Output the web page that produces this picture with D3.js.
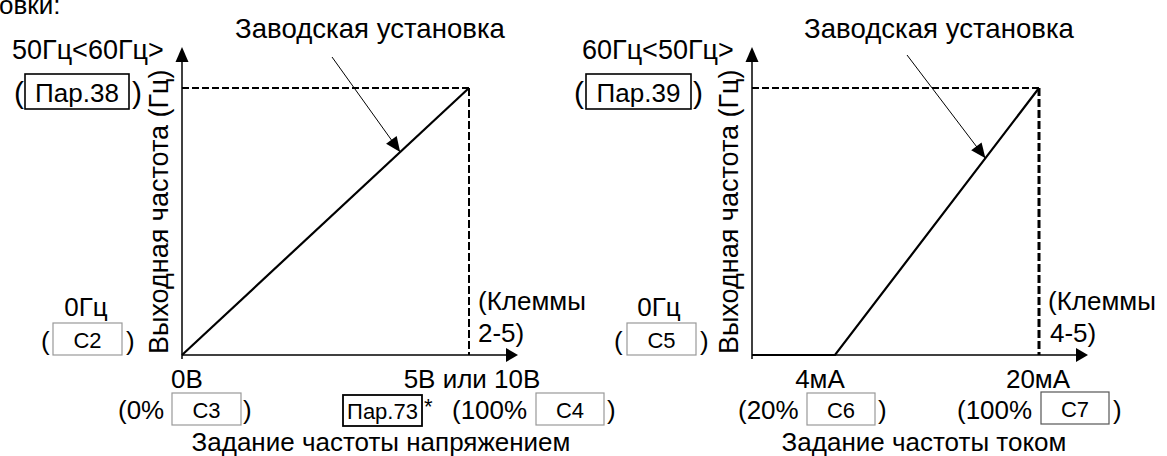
<!DOCTYPE html>
<html>
<head>
<meta charset="utf-8">
<script src="https://cdn.jsdelivr.net/npm/d3@7"></script>
<style>
  body { margin: 0; background: #fff; }
  text { font-family: "Liberation Sans", Arial, sans-serif; fill: #000; }
</style>
</head>
<body>
<svg id="chart" width="1167" height="456"></svg>
<script>
// ---- values ----
const freqMax = 60;                                // output frequency at full input, Hz
const voltageDomain = [0, 100];                    // voltage input, % of full scale
const voltageCurve = [[0, 0], [100, 60]];          // factory setting, voltage input
const voltageLeader = [76, 45.6];                  // point the factory-setting arrow touches
const currentDomain = [0, 4, 20];                  // current input, mA (schematic axis)
const currentCurve = [[0, 0], [4, 0], [20, 60]];   // factory setting, current input
const currentLeader = [15.8, 44.2];
const voltageTickLabels = ["0В", "5В или 10В"];
const currentTickLabels = ["4мА", "20мА"];
const freqTopLabels = ["50Гц<60Гц>", "60Гц<50Гц>"];
const freqTopParams = ["Пар.38", "Пар.39"];
const freqZeroParams = ["C2", "C5"];
const inputLowParams = ["C3", "C6"];
const inputHighParams = ["C4", "C7"];
const terminalLabels = [["(Клеммы", "2-5)"], ["(Клеммы", "4-5)"]];
const axisTitles = ["Задание частоты напряжением", "Задание частоты током"];
const yTitle = "Выходная частота (Гц)";
const factoryLabel = "Заводская установка";

const svg = d3.select("#chart");
const FS = 26;

function txt(x, y, s, size = FS, anchor = "start", extra) {
  const t = svg.append("text").attr("x", x).attr("y", y)
    .attr("font-size", size).attr("text-anchor", anchor).text(s);
  if (extra) extra(t);
  return t;
}
function paramBox(x0, y0, x1, y1, label, stroke, sw, size) {
  svg.append("rect").attr("x", x0).attr("y", y0).attr("width", x1 - x0).attr("height", y1 - y0)
    .attr("fill", "none").attr("stroke", stroke).attr("stroke-width", sw);
  txt((x0 + x1) / 2, y1 - 7, label, size, "middle");
}
function arrowHead(tip, from, len, half) {
  const dx = tip[0] - from[0], dy = tip[1] - from[1];
  const d = Math.hypot(dx, dy), ux = dx / d, uy = dy / d;
  const bx = tip[0] - ux * len, by = tip[1] - uy * len;
  svg.append("path")
    .attr("d", `M${tip[0]},${tip[1]}L${bx - uy * half},${by + ux * half}L${bx + uy * half},${by - ux * half}Z`)
    .attr("fill", "#000");
}

// ---- scales ----
const yScale = d3.scaleLinear().domain([0, freqMax]).range([355, 88]);
const xV = d3.scaleLinear().domain(voltageDomain).range([182, 469]);
const xI = d3.scaleLinear().domain(currentDomain).range([752, 835, 1039]);

function panel(x, curve, leader, leaderFrom, labelX, vDashW) {
  const x0 = x.range()[0], x1 = x.range()[x.range().length - 1];
  const y0 = yScale(0), yTop = yScale(freqMax);
  // reference dashes at full input / full frequency
  svg.append("line").attr("x1", x0).attr("x2", x1).attr("y1", yTop).attr("y2", yTop)
    .attr("stroke", "#000").attr("stroke-width", 2).attr("stroke-dasharray", "7,3");
  svg.append("line").attr("x1", x1).attr("x2", x1).attr("y1", yTop).attr("y2", y0)
    .attr("stroke", "#000").attr("stroke-width", vDashW).attr("stroke-dasharray", "8,3");
  // axes with arrows
  svg.append("line").attr("x1", x0).attr("x2", x0).attr("y1", y0 + 4).attr("y2", yTop - 30)
    .attr("stroke", "#000").attr("stroke-width", 1.5);
  arrowHead([x0, yTop - 41], [x0, y0], 15, 6.5);
  svg.append("line").attr("x1", x0).attr("x2", x1 + 38).attr("y1", y0).attr("y2", y0)
    .attr("stroke", "#000").attr("stroke-width", 1.5);
  arrowHead([x1 + 49, y0], [x0, y0], 12, 7);
  // factory-setting curve
  svg.append("path").datum(curve)
    .attr("d", d3.line().x(d => x(d[0])).y(d => yScale(d[1])))
    .attr("fill", "none").attr("stroke", "#000").attr("stroke-width", 2.2);
  // leader from the label to the curve
  const tip = [x(leader[0]), yScale(leader[1])];
  svg.append("line").attr("x1", leaderFrom[0]).attr("y1", leaderFrom[1])
    .attr("x2", tip[0]).attr("y2", tip[1]).attr("stroke", "#000").attr("stroke-width", 1);
  arrowHead(tip, leaderFrom, 15, 6.5);
  txt(labelX, 38, factoryLabel, 27.6, "middle");
  // rotated y title
  txt(0, 0, yTitle, 27, "start", t => t.attr("transform", `translate(${x0 - 14},354) rotate(-90)`));
}

panel(xV, voltageCurve, voltageLeader, [332, 57], 370, 2);
panel(xI, currentCurve, currentLeader, [907, 55], 939, 3);

// tail of the caption line above the charts
txt(-1, 14, "овки:");

// ---- left panel labels ----
txt(12, 59, freqTopLabels[0], 27);
txt(14, 103, "(", 30);
paramBox(25, 74, 129, 109, freqTopParams[0], "#000", 1.6, FS);
txt(132, 103, ")", 30);
txt(86, 316, "0Гц", FS, "middle");
txt(41, 350, "(");
paramBox(53, 323, 122, 355, freqZeroParams[0], "#999", 1.2, 22);
txt(126, 350, ")");
txt(xV(0) + 5, 388, voltageTickLabels[0], FS, "middle");
txt(118, 419, "(0%");
paramBox(172, 393, 241, 425, inputLowParams[0], "#999", 1.2, 22);
txt(243, 419, ")");
paramBox(343, 395, 422, 426, "Пар.73", "#000", 1.8, 22);
txt(424, 414, "*", 22);
txt(xV(100) + 3, 388, voltageTickLabels[1], FS, "middle");
txt(452, 419, "(100%");
paramBox(536, 393, 604, 425, inputHighParams[0], "#999", 1.2, 22);
txt(607, 419, ")");
txt(478, 310, terminalLabels[0][0]);
txt(478, 342, terminalLabels[0][1]);
txt(381, 451, axisTitles[0], FS, "middle");

// ---- right panel labels ----
txt(582, 59, freqTopLabels[1], 27);
txt(574, 103, "(", 30);
paramBox(586, 74, 691, 109, freqTopParams[1], "#000", 1.6, FS);
txt(693, 103, ")", 30);
txt(659, 316, "0Гц", FS, "middle");
txt(614, 350, "(");
paramBox(627, 323, 696, 355, freqZeroParams[1], "#999", 1.2, 22);
txt(700, 350, ")");
txt(xI(4) - 15, 388, currentTickLabels[0], FS, "middle");
txt(738, 419, "(20%");
paramBox(807, 393, 875, 425, inputLowParams[1], "#999", 1.2, 22);
txt(878, 419, ")");
txt(xI(20) - 1, 388, currentTickLabels[1], FS, "middle");
txt(957, 419, "(100%");
paramBox(1041, 392, 1109, 424, inputHighParams[1], "#555", 1.2, 22);
txt(1113, 419, ")");
txt(1048, 310, terminalLabels[1][0]);
txt(1050, 342, terminalLabels[1][1]);
txt(924, 451, axisTitles[1], FS, "middle");
</script>
</body>
</html>
